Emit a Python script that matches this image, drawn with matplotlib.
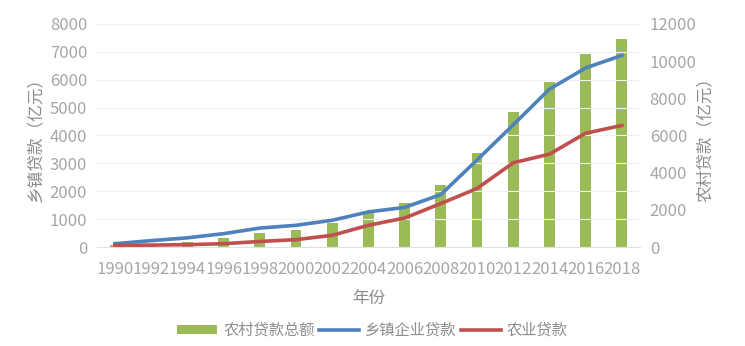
import matplotlib.pyplot as plt
import numpy as np

plt.rcParams['font.family'] = ['Noto Sans CJK SC', 'DejaVu Sans']

years = ['1990', '1992', '1994', '1996', '1998', '2000', '2002', '2004',
         '2006', '2008', '2010', '2012', '2014', '2016', '2018']
# 农村贷款总额 (right axis)
rural_total = [100, 150, 280, 480, 770, 930, 1290, 1850,
               2370, 3330, 5040, 7280, 8890, 10400, 11190]
# 乡镇企业贷款 (left axis)
township = [120, 230, 330, 480, 680, 780, 960, 1260,
            1420, 1880, 3120, 4380, 5660, 6420, 6870]
# 农业贷款 (left axis)
agri = [60, 70, 85, 120, 200, 265, 420, 780,
        1040, 1560, 2100, 3020, 3330, 4080, 4360]

green = '#9BBB59'
blue = '#4F81BD'
red = '#C0504D'
tick_c = '#A6A6A6'
label_c = '#8C8C8C'

fig = plt.figure(figsize=(7.45, 3.46), dpi=100)
ax = fig.add_axes([0.130, 0.286, 0.729, 0.645])
ax2 = ax.twinx()

x = np.arange(len(years))
ax2.bar(x, rural_total, width=0.3, color=green, label='农村贷款总额', zorder=1)
ax.plot(x, township, color=blue, lw=2.6, label='乡镇企业贷款', zorder=3)
ax.plot(x, agri, color=red, lw=2.6, label='农业贷款', zorder=3)

# lines above bars
ax.set_zorder(ax2.get_zorder() + 1)
ax.patch.set_visible(False)

ax.set_xlim(-0.5, len(years) - 0.5)
ax.set_ylim(0, 8000)
ax.set_yticks(range(0, 8001, 1000))
ax2.set_ylim(0, 12000)
ax2.set_yticks(range(0, 12001, 2000))
ax.set_xticks(x)
ax.set_xticklabels(years)

ax.grid(axis='y', color='#F0F0F0', lw=0.8)
ax.set_axisbelow(True)

for a in (ax, ax2):
    for s in a.spines.values():
        s.set_visible(False)
    a.tick_params(length=0, colors=tick_c, labelsize=12)
ax.spines['bottom'].set_visible(True)
ax.spines['bottom'].set_color('#E0E0E0')
ax.tick_params(axis='x', pad=10)
ax.tick_params(axis='y', pad=7)
ax2.tick_params(axis='y', pad=7)

ax.set_xlabel('年份', color=label_c, fontsize=12, labelpad=9)
ax.set_ylabel('乡镇贷款（亿元）', color=label_c, fontsize=12, labelpad=4)
ax2.set_ylabel('农村贷款（亿元）', color=label_c, fontsize=12, labelpad=0)

h1, l1 = ax2.get_legend_handles_labels()
h2, l2 = ax.get_legend_handles_labels()
leg = fig.legend(h1 + h2, l1 + l2, loc='center', bbox_to_anchor=(0.5, 0.045),
                 ncol=3, frameon=False, fontsize=11, handlelength=2.6,
                 handleheight=0.5, columnspacing=0.3, handletextpad=0.4)
for t in leg.get_texts():
    t.set_color(label_c)

fig.savefig('out.png', dpi=100)
